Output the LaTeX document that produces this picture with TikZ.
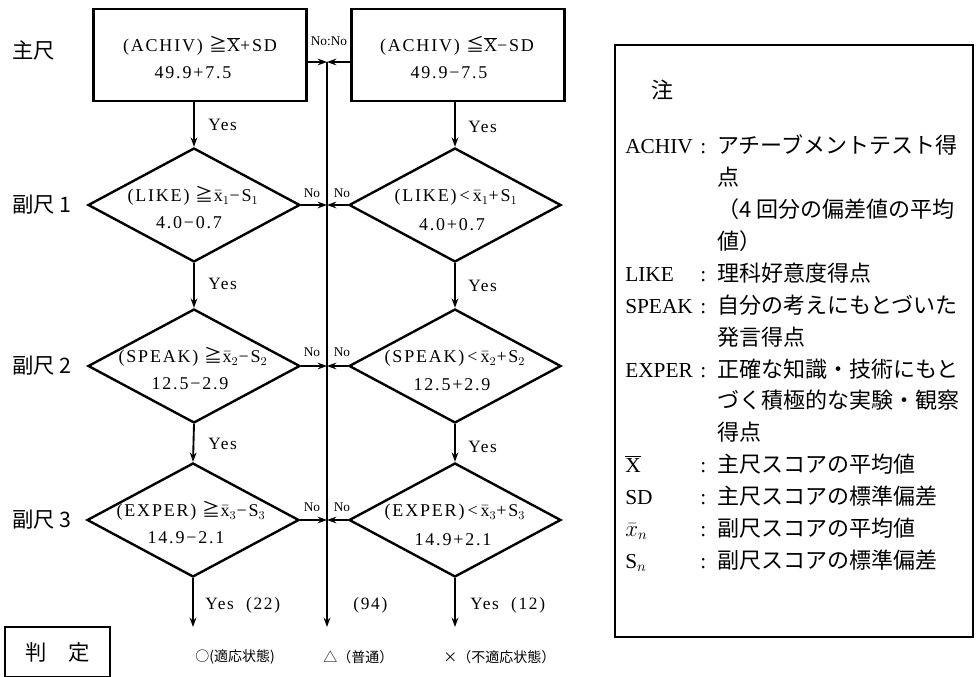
\documentclass[tikz,border=0pt]{standalone}
\usepackage{fontspec}
\setmainfont{Liberation Serif}
\newfontfamily\jp{Noto Sans CJK JP}
\newfontfamily\fsp[LetterSpace=10]{Liberation Serif}
\usetikzlibrary{shapes.geometric,arrows.meta}
\newcommand{\xb}[1]{$\bar{\mbox{x}}_{#1}$}
\newcommand{\Xb}{$\overline{\mbox{X}}$}
\tikzset{
 box/.style={draw, line width=1.8pt, minimum width=159.75pt, minimum height=69pt, inner sep=0pt},
 dia/.style={diamond, draw, line width=1.8pt, minimum width=159pt, minimum height=85.5pt, inner sep=0pt},
 arr/.style={line width=1.4pt, -{Stealth[length=7pt,width=5pt]}},
 cond/.style={font=\fsp\fontsize{13.5}{15}\selectfont, inner sep=0pt},
 yes/.style={font=\fsp\fontsize{13}{15}\selectfont, anchor=west, inner sep=0pt},
 nolab/.style={font=\fontsize{10}{12}\selectfont, inner sep=0pt},
 side/.style={font=\jp\fontsize{16}{18}\selectfont, anchor=west, inner sep=0pt},
 res/.style={font=\jp\fontsize{10.5}{12}\selectfont, anchor=west, inner sep=0pt},
 lterm/.style={font=\fontsize{16}{18}\selectfont, anchor=base west, inner sep=0pt},
 ldesc/.style={font=\jp\fontsize{16.5}{19}\selectfont, anchor=base west, inner sep=0pt},
}
\begin{document}
\begin{tikzpicture}[x=0.75pt,y=-0.75pt]
\useasboundingbox (0,0) rectangle (977,677);

% boxes and diamonds
\node[box] (lb) at (200,55) {};
\node[box] (rb) at (458,55) {};
\node[dia] (l1) at (194,205) {};
\node[dia] (l2) at (194,366) {};
\node[dia] (l3) at (193,520) {};
\node[dia] (r1) at (455,205) {};
\node[dia] (r2) at (455,366) {};
\node[dia] (r3) at (455,520) {};

% texts in shapes
\node[cond] (lbt1) at (200,46) {(ACHIV) {\jp ≧}\Xb{}+SD};
\node[cond] (lbt2) at (193,73) {49.9+7.5};
\node[cond] (rbt1) at (457,46) {(ACHIV) {\jp ≦}\Xb{}−SD};
\node[cond] (rbt2) at (449,73) {49.9−7.5};
\node[cond] (l1a) at (193,196) {(LIKE) {\jp ≧}\xb{1}−S$_1$};
\node[cond] (l1b) at (189,223) {4.0−0.7};
\node[cond] (l2a) at (193,357) {(SPEAK) {\jp ≧}\xb{2}−S$_2$};
\node[cond] (l2b) at (190,384) {12.5−2.9};
\node[cond] (l3a) at (191,511) {(EXPER) {\jp ≧}\xb{3}−S$_3$};
\node[cond] (l3b) at (186,538) {14.9−2.1};
\node[cond] (r1a) at (456,197) {(LIKE)\,<\,\xb{1}+S$_1$};
\node[cond] (r1b) at (452,225) {4.0+0.7};
\node[cond] (r2a) at (455,358) {(SPEAK)\,<\,\xb{2}+S$_2$};
\node[cond] (r2b) at (452,385) {12.5+2.9};
\node[cond] (r3a) at (455,512) {(EXPER)\,<\,\xb{3}+S$_3$};
\node[cond] (r3b) at (453,540) {14.9+2.1};

% central line
\coordinate (jt) at (327,62);
\coordinate (jb) at (327,627);
\draw[line width=1.2pt, -{Stealth[length=7pt,width=5pt]}] (jt) -- (jb);

% No connectors
\draw[arr] (lb.east |- jt) -- (jt);
\draw[arr] (rb.west |- jt) -- (jt);
\draw[arr] (l1.east) -- (l1.east -| jt);
\draw[arr] (r1.west) -- (r1.west -| jt);
\draw[arr] (l2.east) -- (l2.east -| jt);
\draw[arr] (r2.west) -- (r2.west -| jt);
\draw[arr] (l3.east) -- (l3.east -| jt);
\draw[arr] (r3.west) -- (r3.west -| jt);

% Yes connectors
\draw[arr] (l1.north |- lb.south) -- (l1.north);
\draw[arr] (l1.south) -- (l2.north);
\draw[arr] (l2.south) -- (l3.north);
\draw[arr] (r1.north |- rb.south) -- (r1.north);
\draw[arr] (r1.south) -- (r2.north);
\draw[arr] (r2.south) -- (r3.north);
\coordinate (lo) at (193,627);
\coordinate (ro) at (455,627);
\draw[arr] (l3.south) -- (lo);
\draw[arr] (r3.south) -- (ro);

% No labels
\node[nolab] (n0) at (329,41) {No:No};
\node[nolab] (n1l) at (312,193) {No};
\node[nolab] (n1r) at (342,193) {No};
\node[nolab] (n2l) at (312,352) {No};
\node[nolab] (n2r) at (342,352) {No};
\node[nolab] (n3l) at (312,507) {No};
\node[nolab] (n3r) at (342,507) {No};

% Yes labels
\node[yes] (y0l) at (208,125) {Yes};
\node[yes] (y1l) at (208,284) {Yes};
\node[yes] (y2l) at (208,444) {Yes};
\node[yes] (y0r) at (468,127) {Yes};
\node[yes] (y1r) at (468,286) {Yes};
\node[yes] (y2r) at (468,447) {Yes};
\node[yes] (y3l) at (205,605) {Yes\ \ (22)};
\node[yes] (c94) at (353,605) {(94)};
\node[yes] (y3r) at (470,605) {Yes\ \ (12)};

% results
\node[res] (res1) at (195,657) {○(適応状態)};
\node[res] (res2) at (323,657) {△（普通）};
\node[res] (res3) at (443,657) {×（不適応状態）};

% side labels
\node[side] (s0) at (12,50) {主尺};
\node[side] (s1) at (12,205) {副尺 1};
\node[side] (s2) at (12,366) {副尺 2};
\node[side] (s3) at (12,520) {副尺 3};

\node[draw, line width=1.2pt, minimum width=78.75pt, minimum height=37.5pt, inner sep=0pt,
      font=\jp\fontsize{16}{18}\selectfont] (judge) at (57.5,652) {判　定};

% legend
\draw[line width=0.8pt] (615,45) rectangle (973,637);
\node[ldesc] (lg0) at (651,99) {注};
\node[lterm] (t0) at (625,154) {ACHIV};
\node[lterm] (k0) at (700,154) {:};
\node[ldesc] (d0) at (717,154) {アチーブメントテスト得};
\node[ldesc] (d1) at (717,186) {点};
\node[ldesc] (d2) at (717,218) {（4 回分の偏差値の平均};
\node[ldesc] (d3) at (717,249) {値）};
\node[lterm] (t4) at (625,281) {LIKE};
\node[lterm] (k4) at (700,281) {:};
\node[ldesc] (d4) at (717,281) {理科好意度得点};
\node[lterm] (t5) at (625,313) {SPEAK};
\node[lterm] (k5) at (700,313) {:};
\node[ldesc] (d5) at (717,313) {自分の考えにもとづいた};
\node[ldesc] (d6) at (717,345) {発言得点};
\node[lterm] (t7) at (625,377) {EXPER};
\node[lterm] (k7) at (700,377) {:};
\node[ldesc] (d7) at (717,377) {正確な知識・技術にもと};
\node[ldesc] (d8) at (717,408) {づく積極的な実験・観察};
\node[ldesc] (d9) at (717,440) {得点};
\node[lterm] (t10) at (625,472) {\Xb};
\node[lterm] (k10) at (700,472) {:};
\node[ldesc] (d10) at (717,472) {主尺スコアの平均値};
\node[lterm] (t11) at (625,504) {SD};
\node[lterm] (k11) at (700,504) {:};
\node[ldesc] (d11) at (717,504) {主尺スコアの標準偏差};
\node[lterm] (t12) at (625,536) {$\bar{x}_n$};
\node[lterm] (k12) at (700,536) {:};
\node[ldesc] (d12) at (717,536) {副尺スコアの平均値};
\node[lterm] (t13) at (625,568) {S$_n$};
\node[lterm] (k13) at (700,568) {:};
\node[ldesc] (d13) at (717,568) {副尺スコアの標準偏差};
\end{tikzpicture}
\end{document}
